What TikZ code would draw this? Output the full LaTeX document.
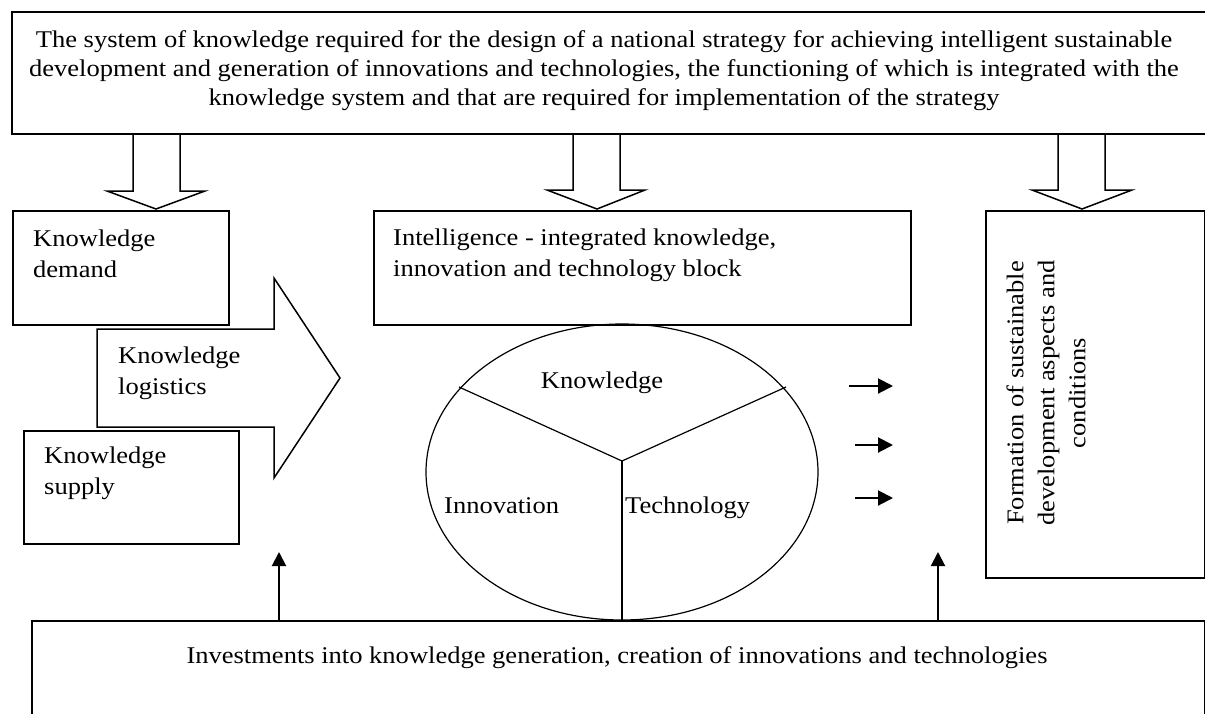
\documentclass[tikz,border=0pt]{standalone}
\usepackage{fontspec}
\setmainfont{Liberation Serif}[FakeStretch=1.105]
\usetikzlibrary{arrows.meta,shapes.geometric}
\begin{document}
\begin{tikzpicture}[x=1pt,y=-1pt,line join=miter,
  box/.style={draw,line width=1.5pt,fill=white,anchor=north west,inner sep=0pt},
  txt/.style={anchor=base west,inner sep=0pt,align=left,font=\fontsize{24}{31}\selectfont},
  ctxt/.style={inner sep=0pt,align=center,font=\fontsize{24}{29}\selectfont},
  blockarrow/.style={draw,line width=1.5pt,fill=white},
  smallarrow/.style={line width=2pt,-{Triangle[length=15pt,width=15pt]}},
  uparrow/.style={line width=2pt,-{Triangle[length=14pt,width=14pt]}},
  thin/.style={line width=1.2pt}]
\useasboundingbox (0,0) rectangle (1205,713);
\clip (0,0) rectangle (1205,713);
% block arrows down (drawn first, so the box edges lie on top)
\draw[blockarrow] (133,133) -- (133,191) -- (107,191) -- (156,209) -- (205,191) -- (180,191) -- (180,133);
\draw[blockarrow] (573,133) -- (573,190) -- (547,190) -- (597,209) -- (645,190) -- (620,190) -- (620,133);
\draw[blockarrow] (1058,133) -- (1058,190) -- (1032,190) -- (1082,209) -- (1132,190) -- (1105,190) -- (1105,133);
% top box
\node[box,minimum width=1200pt,minimum height=122pt] (top) at (11,11) {};
\node[ctxt,anchor=base] (toptext) at (604,105) {The system of knowledge required for the design of a national strategy for achieving intelligent sustainable\\development and generation of innovations and technologies, the functioning of which is integrated with the\\knowledge system and that are required for implementation of the strategy};
% left boxes
\node[box,minimum width=216pt,minimum height=114pt] (demand) at (12,210) {};
\node[txt] (demandtext) at (33,277) {Knowledge\\demand};
\draw[blockarrow] (97,329) -- (274,329) -- (274,278) -- (340,378) -- (274,478) -- (274,427) -- (97,427) -- cycle;
\node[txt] (logtext) at (118,394) {Knowledge\\logistics};
\node[box,minimum width=215pt,minimum height=113pt] (supply) at (23,430) {};
\node[txt] (supplytext) at (44,494) {Knowledge\\supply};
% intelligence box
\node[box,minimum width=537pt,minimum height=114pt] (intel) at (373,210) {};
\node[txt] (inteltext) at (393,276) {Intelligence - integrated knowledge,\\innovation and technology block};
% formation box
\node[box,minimum width=219pt,minimum height=367pt] (form) at (985,210) {};
\node[ctxt,rotate=90,font=\fontsize{24}{31}\selectfont] (formtext) at (1046,393) {Formation of sustainable\\development aspects and\\conditions};
% bottom box
\node[box,minimum width=1173pt,minimum height=110pt] (inv) at (31,620) {};
\node[ctxt,anchor=base] (invtext) at (617,663) {Investments into knowledge generation, creation of innovations and technologies};
% ellipse
\node[draw,thin,ellipse,minimum width=392pt,minimum height=296pt,inner sep=0pt] (ell) at (622,472) {};
\coordinate (yc) at (622,461);
\coordinate (yl) at (459,387);
\coordinate (yr) at (786,387);
\coordinate (yb) at (622,620);
\draw[thin] (yc) -- (yl);
\draw[thin] (yc) -- (yr);
\draw[thin] (yc) -- (yb);
\node[ctxt,anchor=base] (kn) at (602,388) {Knowledge};
\node[txt] (inn) at (444,513) {Innovation};
\node[txt] (tech) at (625,513) {Technology};
% small arrows
\coordinate (a1s) at (849,386); \coordinate (a1e) at (893,386);
\coordinate (a2s) at (855,445); \coordinate (a2e) at (893,445);
\coordinate (a3s) at (855,498); \coordinate (a3e) at (893,498);
\draw[smallarrow] (a1s) -- (a1e);
\draw[smallarrow] (a2s) -- (a2e);
\draw[smallarrow] (a3s) -- (a3e);
% up arrows
\coordinate (u1s) at (279,620); \coordinate (u1e) at (279,552);
\coordinate (u2s) at (938,620); \coordinate (u2e) at (938,552);
\draw[uparrow] (u1s) -- (u1e);
\draw[uparrow] (u2s) -- (u2e);
\end{tikzpicture}
\end{document}
